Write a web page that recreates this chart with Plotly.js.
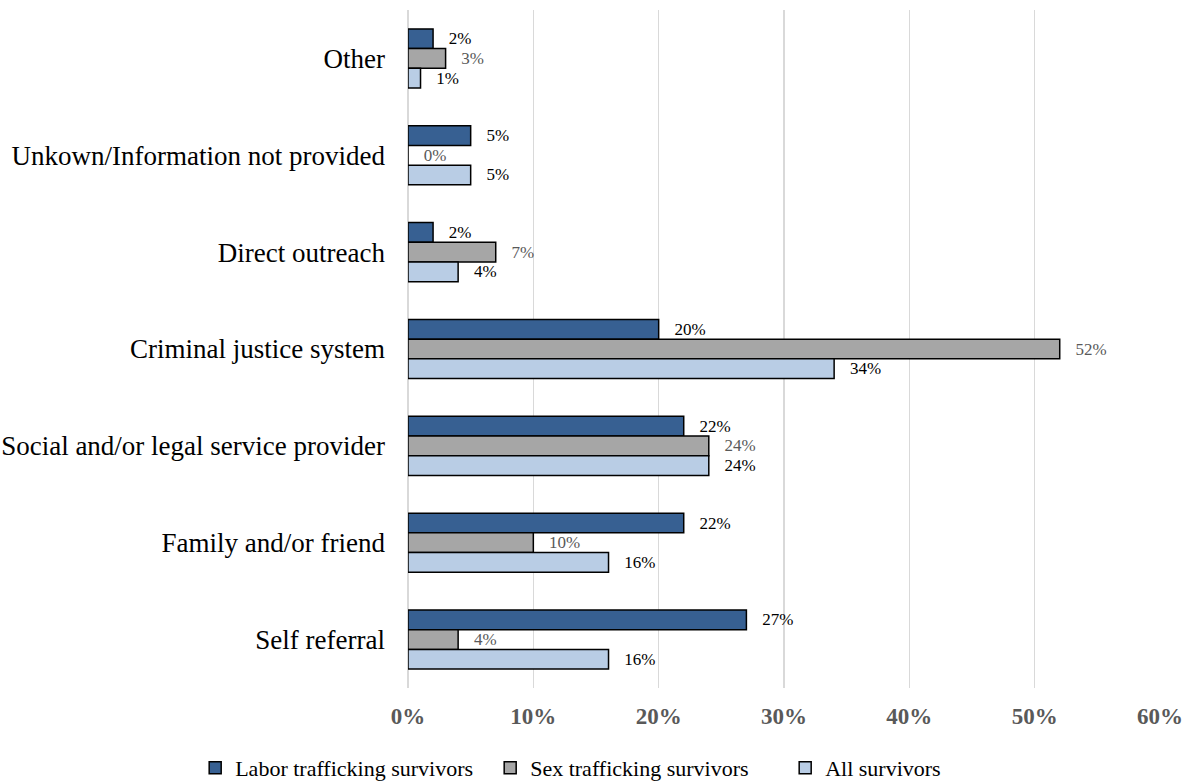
<!DOCTYPE html>
<html>
<head>
<meta charset="utf-8">
<script src="https://cdn.plot.ly/plotly-3.0.1.min.js"></script>
<style>html,body{margin:0;padding:0;background:#fff;}#chart{width:1188px;height:781px;}</style>
</head>
<body>
<div id="chart"></div>
<script>
const categories = ["Other", "Unkown/Information not provided", "Direct outreach", "Criminal justice system", "Social and/or legal service provider", "Family and/or friend", "Self referral"];
const seriesNames = ["Labor trafficking survivors", "Sex trafficking survivors", "All survivors"];
const laborValues = [2, 5, 2, 20, 22, 22, 27];
const sexValues = [3, 0, 7, 52, 24, 10, 4];
const allValues = [1, 5, 4, 34, 24, 16, 16];
const tickValues = [0, 10, 20, 30, 40, 50, 60];
const tickLabels = ["0%", "10%", "20%", "30%", "40%", "50%", "60%"];

const colors = ["#376092", "#a6a6a6", "#b9cde5"];
const labelColors = ["#000000", "#595959", "#000000"];
const seriesValues = [laborValues, sexValues, allValues];
const pad = "\u00a0\u00a0\u00a0";

const traces = seriesValues.map((vals, i) => ({
  type: "bar",
  orientation: "h",
  name: seriesNames[i],
  y: categories,
  x: vals,
  marker: {color: colors[i], line: {color: "#000000", width: 1.5}},
  text: vals.map(v => pad + v + "%"),
  textposition: "outside",
  cliponaxis: false,
  textfont: {family: "Liberation Serif", size: 17, color: labelColors[i]},
  hoverinfo: "skip"
}));

const layout = {
  width: 1188, height: 781,
  margin: {l: 408, r: 28, t: 10, b: 93, autoexpand: false},
  paper_bgcolor: "#ffffff", plot_bgcolor: "#ffffff",
  barmode: "group",
  bargap: 0.39,
  bargroupgap: 0,
  font: {family: "Liberation Serif", color: "#000000"},
  xaxis: {
    range: [0, 60],
    tickvals: tickValues,
    ticktext: tickLabels,
    tickangle: 0,
    showgrid: true, gridcolor: "#d9d9d9", gridwidth: 1.5,
    zeroline: true, zerolinecolor: "#d9d9d9", zerolinewidth: 1.5,
    showline: false,
    tickfont: {family: "Liberation Serif", size: 23, color: "#595959", weight: "bold"},
    ticklabelstandoff: 12
  },
  yaxis: {
    autorange: "reversed",
    showgrid: false, zeroline: false, showline: false,
    tickfont: {family: "Liberation Serif", size: 27, color: "#000000"},
    ticklabelstandoff: 22
  },
  legend: {
    orientation: "h",
    entrywidth: 250,
    x: -0.283, xanchor: "left",
    y: -0.118, yanchor: "middle",
    font: {family: "Liberation Serif", size: 22, color: "#000000"},
    traceorder: "normal"
  },
  showlegend: true
};

Plotly.newPlot("chart", traces, layout, {displayModeBar: false, staticPlot: true});
</script>
</body>
</html>
